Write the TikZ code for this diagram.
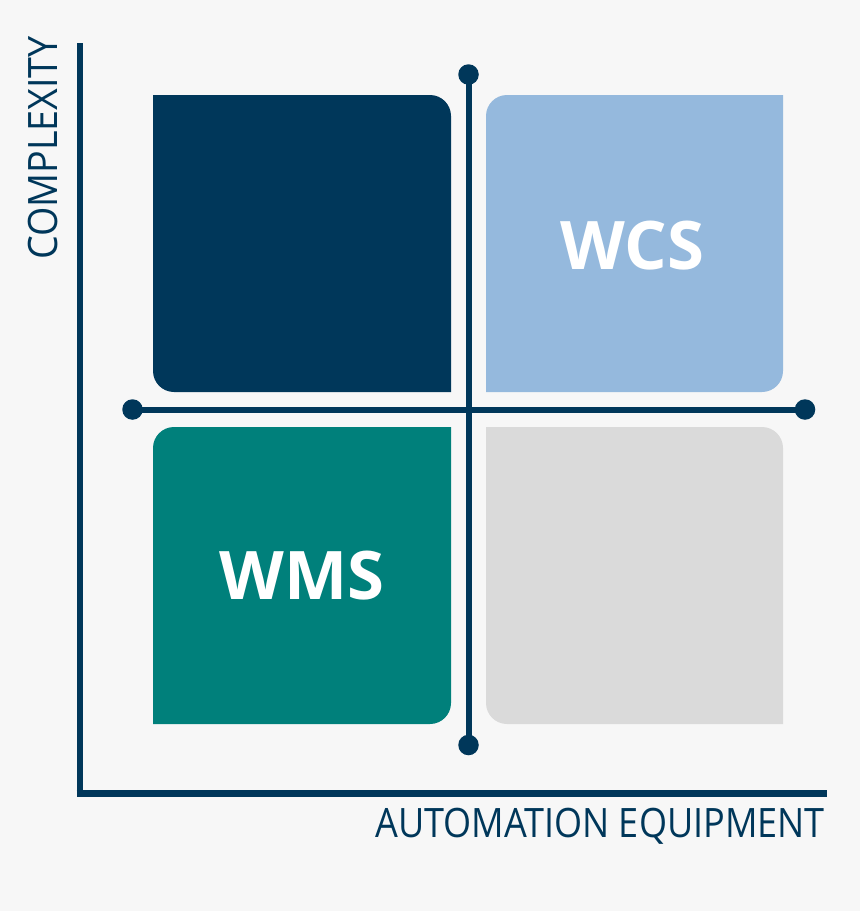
\documentclass[tikz,border=0pt]{standalone}
\usepackage{fontspec}
\setmainfont{Open Sans}
\definecolor{navy}{HTML}{00375A}
\definecolor{bgc}{HTML}{F7F7F7}
\definecolor{lblue}{HTML}{95B9DD}
\definecolor{teal2}{HTML}{00807B}
\definecolor{lgray}{HTML}{DADADA}
\begin{document}
\begin{tikzpicture}[x=1pt,y=-1pt,
  quadtext/.style={inner sep=0pt,text=white,font=\fontsize{67}{67}\selectfont\bfseries},
  axis/.style={draw=navy,line width=6.7pt},
  cross/.style={draw=navy,line width=6pt},
  dot/.style={circle,fill=navy,minimum size=20.5pt,inner sep=0pt},
  lab/.style={text=navy,font=\fontsize{40.5}{40.5}\selectfont,inner sep=0pt}]
\fill[bgc] (0,0) rectangle (860,911);
\useasboundingbox (0,0) rectangle (860,911);
% quadrants
\fill[navy] (153,95) -- (430,95) .. controls (441.6,95) and (451,104.4) .. (451,116)
  -- (451,392) -- (174,392) .. controls (162.4,392) and (153,382.6) .. (153,371) -- cycle;
\fill[lblue] (507,95) -- (783,95) -- (783,371) .. controls (783,382.6) and (773.6,392) .. (762,392)
  -- (486,392) -- (486,116) .. controls (486,104.4) and (495.4,95) .. (507,95) -- cycle;
\fill[teal2] (174,427) -- (451,427) -- (451,703) .. controls (451,714.6) and (441.6,724) .. (430,724)
  -- (153,724) -- (153,448) .. controls (153,436.4) and (162.4,427) .. (174,427) -- cycle;
\fill[lgray] (486,427) -- (762,427) .. controls (773.6,427) and (783,436.4) .. (783,448)
  -- (783,724) -- (507,724) .. controls (495.4,724) and (486,714.6) .. (486,703) -- cycle;
\node[quadtext] (wcs) at (632,246) {WCS};
\node[quadtext] (wms) at (302,575.5) {WMS};
% cross lines
\node[dot] (vt) at (468.5,74.5) {};
\node[dot] (vb) at (468.5,745) {};
\node[dot] (hl) at (132.5,409.5) {};
\node[dot] (hr) at (805,409.5) {};
\draw[cross] (vt.center) -- (vb.center);
\draw[cross] (hl.center) -- (hr.center);
% axes
\coordinate (ytop) at (80,43);
\coordinate (ybot) at (80,796.65);
\coordinate (xstart) at (76.65,793.3);
\coordinate (xend) at (827,793.3);
\draw[axis] (ytop) -- (ybot);
\draw[axis] (xstart) -- (xend);
% labels
\node[lab,anchor=south east] (xl) at (825,844.5) {\scalebox{0.89}[1]{AUTOMATION EQUIPMENT}};
\node[lab,anchor=south west,rotate=90] (yl) at (58.5,260) {\scalebox{0.93}[1]{COMPLEXITY}};
\end{tikzpicture}
\end{document}
